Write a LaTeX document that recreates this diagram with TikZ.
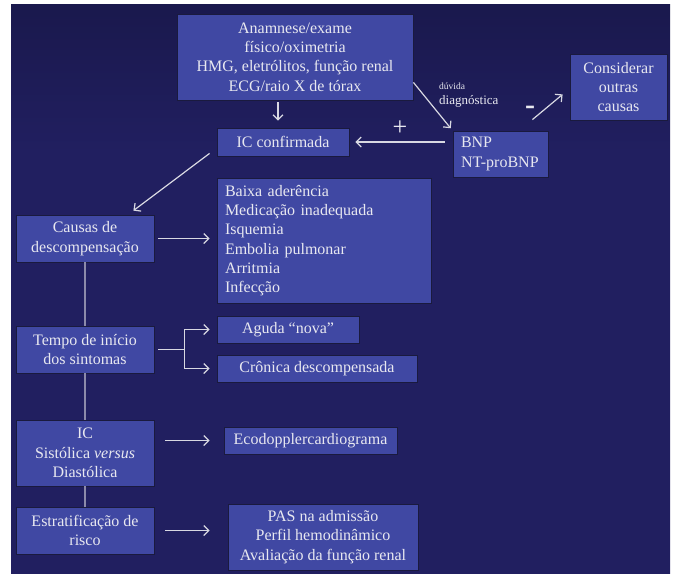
\documentclass[tikz,border=0pt]{standalone}
\usepackage{fontspec}
\setmainfont{Liberation Serif}
\usetikzlibrary{arrows.meta}
\definecolor{bgtop}{HTML}{0C0C28}
\definecolor{bgmid}{HTML}{211F60}
\definecolor{bgbot}{HTML}{0C0B2A}
\definecolor{boxfill}{HTML}{4048A3}
\definecolor{boxline}{HTML}{1A1A3E}
\definecolor{txt}{HTML}{E8E8F0}
\definecolor{arrowc}{HTML}{D8D8E2}
\definecolor{stem}{HTML}{8C8AAA}
\pgfdeclareverticalshading{bgshade}{100bp}{color(0bp)=(bgbot); color(25bp)=(bgmid); color(62bp)=(bgmid); color(100bp)=(bgtop)}

\begin{document}
\begin{tikzpicture}[x=1pt,y=-1pt,font=\fontsize{16}{19.3}\selectfont]
		\tikzset{box/.style = {draw=boxline,line width=0.8pt,fill=boxfill,text=txt,inner sep=0pt,align=center}}
		\tikzset{arr/.style = {draw=arrowc,line width=1.2pt,-{Straight Barb[length=5pt,width=10pt]}}}
		\tikzset{stemline/.style = {draw=stem,line width=2pt}}
		\tikzset{lbl/.style = {text=txt,inner sep=0pt}}
		
		\useasboundingbox (0,0) rectangle (677,574);
		\fill[white] (0,0) rectangle (677,574);
		\shade[shading=bgshade] (11,4) rectangle (670,573);
		
		\node[box,minimum width=236,minimum height=86] (anam) at (295,57) {Anamnese/exame\\físico/oximetria\\HMG, eletrólitos, função renal\\ECG/raio X de tórax};
		\node[box,minimum width=132,minimum height=28] (icconf) at (283,142) {IC confirmada};
		\node[box,align=left,text width=79pt,inner xsep=8pt,minimum height=46] (bnp) at (500.5,154) {BNP\\NT-proBNP};
		\node[box,minimum width=97,minimum height=66] (outras) at (618.5,87) {Considerar\\outras\\causas};
		
		\node[box,minimum width=138,minimum height=47] (causas) at (85,238.5) {Causas de\\descompensação};
		\node[box,align=left,text width=198pt,inner xsep=8pt,minimum height=125] (lista) at (324,240.5) {Baixa aderência\\Medicação inadequada\\Isquemia\\Embolia pulmonar\\Arritmia\\Infecção};
		\node[box,minimum width=138,minimum height=47] (tempo) at (85,349.5) {Tempo de início\\dos sintomas};
		\node[box,minimum width=142,minimum height=27] (aguda) at (288,329.5) {Aguda “nova”};
		\node[box,minimum width=200,minimum height=27] (cronica) at (317,368.5) {Crônica descompensada};
		\node[box,minimum width=138,minimum height=66] (tipo) at (85,453) {IC\\Sistólica \textit{versus}\\Diastólica};
		\node[box,minimum width=173,minimum height=27] (eco) at (310.5,440.5) {Ecodopplercardiograma};
		\node[box,minimum width=138,minimum height=47] (estrat) at (85,530.5) {Estratificação de\\risco};
		\node[box,minimum width=190,minimum height=66] (pas) at (323,537) {PAS na admissão\\Perfil hemodinâmico\\Avaliação da função renal};
		
		\node[lbl,anchor=west,font=\fontsize{9.5}{11}\selectfont] (duvida) at (439,86) {dúvida};
		\node[lbl,anchor=west,font=\fontsize{13}{15}\selectfont] (diag) at (439,101) {diagnóstica};
		\node[lbl,font=\fontsize{26}{28}\selectfont] (plus) at (400,128) {+};
		\node[lbl,font=\fontsize{30}{32}\selectfont\bfseries] (minus) at (530,110) {-};
		
		\draw[arr,shorten <=2pt,shorten >=7pt] ([xshift=-17pt]anam.south) -- ([xshift=-5pt]icconf.north);
		\draw[arr,shorten >=3pt] ([shift={(0,-18)}]anam.south east) -- (bnp.north west);
		\draw[arr,shorten <=8pt,shorten >=6pt] (bnp.west |- icconf.east) -- (icconf.east);
		\draw[arr] ([shift={(-16,-11)}]bnp.north east) -- ([shift={(-7,-26)}]outras.south west);
		\draw[arr] ([shift={(-7,-3)}]icconf.south west) -- ([shift={(-21,-4)}]causas.north east);
		
		\draw[arr,shorten <=4pt,shorten >=7pt] (causas.east) -- (causas.east -| lista.west);
		\coordinate (split) at ([xshift=30pt]tempo.east);
		\draw[draw=arrowc,line width=1.2pt,shorten <=4pt] (tempo.east) -- (split);
		\draw[arr,shorten >=7pt] (split) |- (aguda.west);
		\draw[arr,shorten >=7pt] (split) |- (cronica.west);
		\draw[arr,shorten <=11pt,shorten >=14pt] (tipo.east |- eco.west) -- (eco.west);
		\draw[arr,shorten <=11pt,shorten >=18pt] (estrat.east) -- (estrat.east -| pas.west);
		
		\draw[stemline] (causas.south) -- (tempo.north);
		\draw[stemline] (tempo.south) -- (tipo.north);
		\draw[stemline] (tipo.south) -- (estrat.north);
\end{tikzpicture}
\end{document}
